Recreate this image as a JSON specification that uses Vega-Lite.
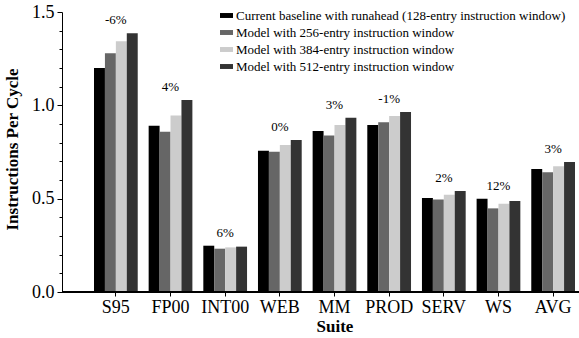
{
  "$schema": "https://vega.github.io/schema/vega-lite/v6.json",
  "width": 517,
  "height": 280,
  "autosize": {"type": "none"},
  "padding": {"left": 62, "top": 12, "right": 0, "bottom": 46},
  "background": "white",
  "config": {
    "font": "Liberation Serif",
    "view": {"stroke": null},
    "axis": {
      "labelFont": "Liberation Serif",
      "titleFont": "Liberation Serif",
      "labelColor": "#000",
      "titleColor": "#000",
      "domainColor": "#000",
      "tickColor": "#000",
      "labelFontSize": 18,
      "titleFontSize": 17,
      "titleFontWeight": "bold",
      "grid": false
    },
    "legend": {"labelFont": "Liberation Serif", "labelColor": "#000"}
  },
  "resolve": {"axis": {"y": "independent"}},
  "data": {
    "values": [
      {"suite": "S95", "config": "Current baseline with runahead (128-entry instruction window)", "ipc": 1.200, "gain": "-6%"},
      {"suite": "S95", "config": "Model with 256-entry instruction window", "ipc": 1.279, "gain": "-6%"},
      {"suite": "S95", "config": "Model with 384-entry instruction window", "ipc": 1.343, "gain": "-6%"},
      {"suite": "S95", "config": "Model with 512-entry instruction window", "ipc": 1.386, "gain": "-6%"},
      {"suite": "FP00", "config": "Current baseline with runahead (128-entry instruction window)", "ipc": 0.891, "gain": "4%"},
      {"suite": "FP00", "config": "Model with 256-entry instruction window", "ipc": 0.859, "gain": "4%"},
      {"suite": "FP00", "config": "Model with 384-entry instruction window", "ipc": 0.945, "gain": "4%"},
      {"suite": "FP00", "config": "Model with 512-entry instruction window", "ipc": 1.029, "gain": "4%"},
      {"suite": "INT00", "config": "Current baseline with runahead (128-entry instruction window)", "ipc": 0.248, "gain": "6%"},
      {"suite": "INT00", "config": "Model with 256-entry instruction window", "ipc": 0.232, "gain": "6%"},
      {"suite": "INT00", "config": "Model with 384-entry instruction window", "ipc": 0.239, "gain": "6%"},
      {"suite": "INT00", "config": "Model with 512-entry instruction window", "ipc": 0.243, "gain": "6%"},
      {"suite": "WEB", "config": "Current baseline with runahead (128-entry instruction window)", "ipc": 0.757, "gain": "0%"},
      {"suite": "WEB", "config": "Model with 256-entry instruction window", "ipc": 0.752, "gain": "0%"},
      {"suite": "WEB", "config": "Model with 384-entry instruction window", "ipc": 0.788, "gain": "0%"},
      {"suite": "WEB", "config": "Model with 512-entry instruction window", "ipc": 0.814, "gain": "0%"},
      {"suite": "MM", "config": "Current baseline with runahead (128-entry instruction window)", "ipc": 0.862, "gain": "3%"},
      {"suite": "MM", "config": "Model with 256-entry instruction window", "ipc": 0.839, "gain": "3%"},
      {"suite": "MM", "config": "Model with 384-entry instruction window", "ipc": 0.895, "gain": "3%"},
      {"suite": "MM", "config": "Model with 512-entry instruction window", "ipc": 0.934, "gain": "3%"},
      {"suite": "PROD", "config": "Current baseline with runahead (128-entry instruction window)", "ipc": 0.895, "gain": "-1%"},
      {"suite": "PROD", "config": "Model with 256-entry instruction window", "ipc": 0.909, "gain": "-1%"},
      {"suite": "PROD", "config": "Model with 384-entry instruction window", "ipc": 0.943, "gain": "-1%"},
      {"suite": "PROD", "config": "Model with 512-entry instruction window", "ipc": 0.964, "gain": "-1%"},
      {"suite": "SERV", "config": "Current baseline with runahead (128-entry instruction window)", "ipc": 0.504, "gain": "2%"},
      {"suite": "SERV", "config": "Model with 256-entry instruction window", "ipc": 0.495, "gain": "2%"},
      {"suite": "SERV", "config": "Model with 384-entry instruction window", "ipc": 0.521, "gain": "2%"},
      {"suite": "SERV", "config": "Model with 512-entry instruction window", "ipc": 0.541, "gain": "2%"},
      {"suite": "WS", "config": "Current baseline with runahead (128-entry instruction window)", "ipc": 0.500, "gain": "12%"},
      {"suite": "WS", "config": "Model with 256-entry instruction window", "ipc": 0.448, "gain": "12%"},
      {"suite": "WS", "config": "Model with 384-entry instruction window", "ipc": 0.473, "gain": "12%"},
      {"suite": "WS", "config": "Model with 512-entry instruction window", "ipc": 0.487, "gain": "12%"},
      {"suite": "AVG", "config": "Current baseline with runahead (128-entry instruction window)", "ipc": 0.659, "gain": "3%"},
      {"suite": "AVG", "config": "Model with 256-entry instruction window", "ipc": 0.641, "gain": "3%"},
      {"suite": "AVG", "config": "Model with 384-entry instruction window", "ipc": 0.673, "gain": "3%"},
      {"suite": "AVG", "config": "Model with 512-entry instruction window", "ipc": 0.696, "gain": "3%"}
    ]
  },
  "layer": [
    {
      "mark": {"type": "bar", "stroke": null},
      "encoding": {
        "x": {
          "field": "suite",
          "type": "nominal",
          "sort": null,
          "scale": {"range": [32, 513], "paddingInner": 0.2, "paddingOuter": 0},
          "axis": {
            "title": "Suite",
            "domain": false,
            "labelAngle": 0,
            "tickSize": 4,
            "labelPadding": 2,
            "titlePadding": 2
          }
        },
        "xOffset": {
          "field": "config",
          "type": "nominal",
          "sort": null,
          "scale": {"paddingInner": 0, "paddingOuter": 0}
        },
        "y": {
          "field": "ipc",
          "type": "quantitative",
          "scale": {"domain": [0, 1.5], "nice": false},
          "axis": {
            "orient": "left",
            "title": "Instructions Per Cycle",
            "values": [0, 0.5, 1.0, 1.5],
            "format": ".1f",
            "tickSize": 5,
            "labelOverlap": false,
            "labelFlush": false,
            "labelPadding": 3,
            "titlePadding": 10,
            "titleY": 137
          }
        },
        "color": {
          "field": "config",
          "type": "nominal",
          "sort": null,
          "scale": {
            "domain": [
              "Current baseline with runahead (128-entry instruction window)",
              "Model with 256-entry instruction window",
              "Model with 384-entry instruction window",
              "Model with 512-entry instruction window"
            ],
            "range": ["#000000", "#666666", "#cccccc", "#333333"]
          },
          "legend": {
            "title": null,
            "orient": "none",
            "legendX": 158,
            "legendY": -3,
            "padding": 0,
            "symbolType": "M-1,-0.38H1V0.38H-1Z",
            "symbolSize": 169,
            "symbolStrokeWidth": 0,
            "labelFontSize": 13,
            "labelOffset": 3,
            "rowPadding": 3,
            "labelLimit": 400
          }
        }
      }
    },
    {
      "mark": {"type": "rule", "color": "#000", "strokeWidth": 1},
      "encoding": {
        "y": {
          "datum": 0,
          "type": "quantitative",
          "axis": {
            "orient": "left",
            "title": null,
            "values": [0.1, 0.2, 0.3, 0.4, 0.6, 0.7, 0.8, 0.9, 1.1, 1.2, 1.3, 1.4],
            "labels": false,
            "domain": false,
            "tickSize": 3
          }
        }
      }
    },
    {
      "transform": [
        {"joinaggregate": [{"op": "max", "field": "ipc", "as": "top"}], "groupby": ["suite"]},
        {"filter": "datum.config === 'Current baseline with runahead (128-entry instruction window)'"}
      ],
      "mark": {"type": "text", "fontSize": 13, "font": "Liberation Serif", "color": "#000", "baseline": "middle", "dy": -13},
      "encoding": {
        "x": {"field": "suite", "type": "nominal", "sort": null},
        "y": {"field": "top", "type": "quantitative", "axis": null},
        "text": {"field": "gain"}
      }
    }
  ]
}
